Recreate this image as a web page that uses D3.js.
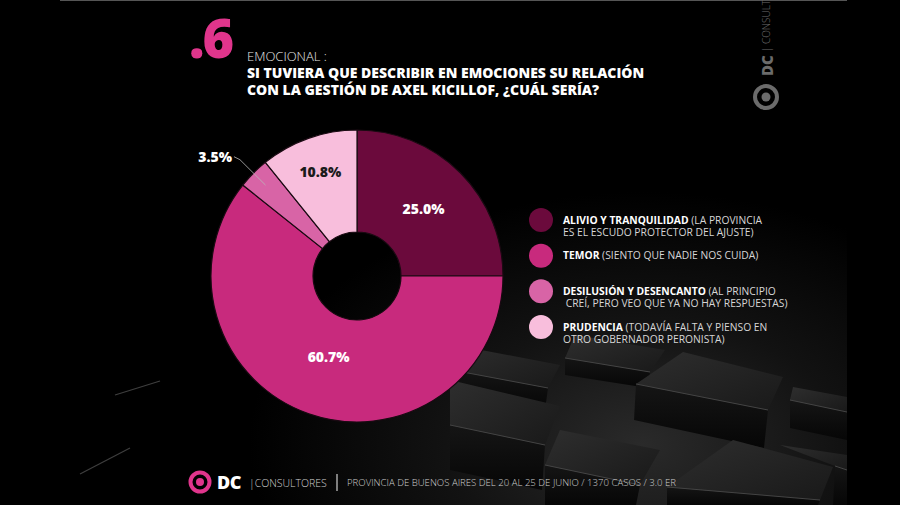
<!DOCTYPE html>
<html>
<head>
<meta charset="utf-8">
<script src="https://cdn.jsdelivr.net/npm/d3@7"></script>
<style>
  html, body { margin: 0; padding: 0; background: #000; }
  svg { display: block; }
</style>
</head>
<body>
<script>
'use strict';

// data
const categories = ['ALIVIO Y TRANQUILIDAD', 'TEMOR', 'DESILUSIÓN Y DESENCANTO', 'PRUDENCIA'];
const values = [25.0, 60.7, 3.5, 10.8];
const descriptions = [
    ['(LA PROVINCIA', 'ES EL ESCUDO PROTECTOR DEL AJUSTE)'],
    ['(SIENTO QUE NADIE NOS CUIDA)'],
    ['(AL PRINCIPIO', ' CREÍ, PERO VEO QUE YA NO HAY RESPUESTAS)'],
    ['(TODAVÍA FALTA Y PIENSO EN', 'OTRO GOBERNADOR PERONISTA)']
];
const titleLines = ['SI TUVIERA QUE DESCRIBIR EN EMOCIONES SU RELACIÓN', 'CON LA GESTIÓN DE AXEL KICILLOF, ¿CUÁL SERÍA?'];
const footerNote = 'PROVINCIA DE BUENOS AIRES DEL 20 AL 25 DE JUNIO / 1370 CASOS / 3.0 ER';

const config = {
    width: 900,
    height: 505,
    slide: { left: 60, right: 847 },
    pie: { cx: 357, cy: 276, outer: 146, inner: 44 },
    pink: '#e0358c',
    font: '"Open Sans", "DejaVu Sans", sans-serif'
};

const color = d3.scaleOrdinal()
    .domain(categories)
    .range(['#6b0a3c', '#c82a7d', '#d864a6', '#f8bedc']);

const svg = d3.select('body')
    .append('svg')
    .attr('width', config.width)
    .attr('height', config.height)
    .style('font-family', config.font)
    ;

const defs = svg.append('defs');

// soft light on the floor of cubes
const glow = defs.append('radialGradient')
    .attr('id', 'glow')
    .attr('cx', 0.74).attr('cy', 0.88).attr('r', 0.5);
glow.append('stop').attr('offset', '0%').attr('stop-color', '#2a2a2a');
glow.append('stop').attr('offset', '50%').attr('stop-color', '#121212');
glow.append('stop').attr('offset', '100%').attr('stop-color', '#000');

const topFace = defs.append('linearGradient')
    .attr('id', 'topFace').attr('x1', 0).attr('y1', 0).attr('x2', 1).attr('y2', 1);
topFace.append('stop').attr('offset', '0%').attr('stop-color', '#2e2e2e');
topFace.append('stop').attr('offset', '100%').attr('stop-color', '#191919');

const sideFace = defs.append('linearGradient')
    .attr('id', 'sideFace').attr('x1', 0).attr('y1', 0).attr('x2', 0).attr('y2', 1);
sideFace.append('stop').attr('offset', '0%').attr('stop-color', '#151515');
sideFace.append('stop').attr('offset', '100%').attr('stop-color', '#060606');

defs.append('clipPath').attr('id', 'slideClip')
    .append('rect')
    .attr('x', config.slide.left).attr('y', 0)
    .attr('width', config.slide.right - config.slide.left).attr('height', config.height);

// background
svg.append('rect')
    .attr('width', config.width).attr('height', config.height)
    .attr('fill', '#000');

const bg = svg.append('g').attr('clip-path', 'url(#slideClip)');

bg.append('rect')
    .attr('x', config.slide.left).attr('y', 0)
    .attr('width', config.slide.right - config.slide.left).attr('height', config.height)
    .attr('fill', 'url(#glow)');

// decorative cubes (stand-in for the background photo)
const cubes = [
    { top: [[455, 345], [560, 365], [548, 388], [452, 370]], side: [[452, 370], [548, 388], [545, 410], [452, 395]] },
    { top: [[575, 335], [665, 350], [650, 372], [565, 358]], side: [[565, 358], [650, 372], [648, 388], [565, 375]] },
    { top: [[450, 380], [560, 406], [545, 445], [450, 425]], side: [[450, 425], [545, 445], [542, 490], [450, 470]] },
    { top: [[683, 352], [783, 377], [768, 410], [636, 384]], side: [[636, 384], [768, 410], [764, 448], [634, 420]] },
    { top: [[793, 387], [847, 397], [847, 412], [790, 400]], side: [[790, 400], [847, 412], [847, 440], [790, 428]] },
    { top: [[560, 430], [660, 450], [640, 485], [545, 465]], side: [[545, 465], [640, 485], [636, 505], [545, 505]] },
    { top: [[733, 440], [833, 467], [820, 500], [667, 487]], side: [[667, 487], [820, 500], [818, 505], [667, 505]] },
    { top: [[780, 445], [847, 455], [847, 470], [835, 466]], side: [[835, 466], [847, 470], [847, 505], [833, 505]] }
];

const line = d3.line();

cubes.forEach(c => {
    bg.append('path').attr('d', line(c.side) + 'Z').attr('fill', 'url(#sideFace)');
    bg.append('path').attr('d', line(c.top) + 'Z').attr('fill', 'url(#topFace)');
    bg.append('path')
        .attr('d', line([c.top[3], c.top[2]]))
        .attr('stroke', '#444').attr('stroke-width', 1).attr('fill', 'none');
});

// faint light streaks on the left
bg.selectAll('.streak')
    .data([[[115, 395], [160, 381]], [[80, 474], [130, 448]]])
    .enter().append('path')
    .attr('class', 'streak')
    .attr('d', d => line(d))
    .attr('stroke', '#3e3e3e').attr('stroke-width', 1.2);

// thin rule on top of slide
svg.append('line')
    .attr('x1', config.slide.left).attr('x2', config.slide.right)
    .attr('y1', 0.5).attr('y2', 0.5)
    .attr('stroke', '#555').attr('stroke-width', 1);

// title block
svg.append('text')
    .attr('x', 189).attr('y', 58)
    .attr('fill', config.pink)
    .style('font-size', '54px').style('font-weight', 800)
    .style('letter-spacing', '-2px')
    .text('.6');

svg.append('text')
    .attr('x', 247).attr('y', 61)
    .attr('fill', '#e6e6e6')
    .style('font-size', '13px').style('font-weight', 300)
    .text('EMOCIONAL :');

svg.selectAll('.title')
    .data(titleLines)
    .enter().append('text')
    .attr('class', 'title')
    .attr('x', 247)
    .attr('y', (d, i) => 78 + i * 16.5)
    .attr('fill', '#fff')
    .style('font-size', '14px').style('font-weight', 800)
    .text(d => d);

// right-side vertical logo (cut at the top edge, as on the slide)
const vlogo = svg.append('g').attr('fill', '#6b6b6b');
vlogo.append('circle')
    .attr('cx', 766).attr('cy', 97).attr('r', 11)
    .attr('fill', 'none').attr('stroke', '#6b6b6b').attr('stroke-width', 4);
vlogo.append('circle').attr('cx', 766).attr('cy', 97).attr('r', 4.5);
vlogo.append('text')
    .attr('transform', 'translate(773,76) rotate(-90)')
    .style('font-size', '15px').style('font-weight', 800)
    .text('DC');
vlogo.append('text')
    .attr('transform', 'translate(770,52) rotate(-90)')
    .style('font-size', '10px').style('font-weight', 300)
    .text('| CONSULTORES');

// donut
const pie = d3.pie().sort(null).value(d => d.value);
const arcs = pie(categories.map((c, i) => ({ name: c, value: values[i] })));

const arc = d3.arc()
    .innerRadius(config.pie.inner)
    .outerRadius(config.pie.outer);

const chart = svg.append('g')
    .attr('transform', `translate(${config.pie.cx}, ${config.pie.cy})`);

chart.selectAll('path.slice')
    .data(arcs)
    .enter().append('path')
    .attr('class', 'slice')
    .attr('d', arc)
    .attr('fill', d => color(d.data.name))
    .attr('stroke', '#1a0a12')
    .attr('stroke-width', 1.2);

// label radius per slice; the thin slice gets an outside label
const labelRadius = [94, 86, null, 110];
const fmt = d3.format('.1f');

chart.selectAll('text.value')
    .data(arcs.filter((d, i) => labelRadius[i] !== null))
    .enter().append('text')
    .attr('class', 'value')
    .attr('transform', d => {
        const r = labelRadius[d.index];
        const c = d3.arc().innerRadius(r).outerRadius(r).centroid(d);
        return `translate(${c})`;
    })
    .attr('text-anchor', 'middle')
    .attr('dy', '0.35em')
    .attr('fill', d => d.index === 3 ? '#1b1b1b' : '#fff')
    .style('font-size', '14px').style('font-weight', 800)
    .text(d => fmt(d.data.value) + '%');

// outside label for the small slice
const small = arcs[2];
const inPt = d3.arc().innerRadius(129).outerRadius(129).centroid(small);
const outPt = d3.arc().innerRadius(165).outerRadius(165).centroid(small);
chart.append('path')
    .attr('d', line([inPt, outPt, [outPt[0] - 6, outPt[1] - 3]]))
    .attr('fill', 'none')
    .attr('stroke', '#b9b9b9')
    .attr('stroke-width', 0.8);
chart.append('text')
    .attr('x', outPt[0] - 8).attr('y', outPt[1] - 3)
    .attr('text-anchor', 'end')
    .attr('dy', '0.35em')
    .attr('fill', '#fff')
    .style('font-size', '14px').style('font-weight', 800)
    .text(fmt(small.data.value) + '%');

// legend
const ly = d3.scalePoint()
    .domain(categories)
    .range([220, 327]);

const legend = svg.selectAll('.legend')
    .data(categories)
    .enter().append('g')
    .attr('class', 'legend')
    .attr('transform', d => `translate(541, ${ly(d)})`);

legend.append('circle')
    .attr('r', 12)
    .attr('fill', d => color(d));

legend.each(function (d, i) {
    const t = d3.select(this).append('text')
        .attr('x', 22).attr('y', 3.5)
        .style('font-size', '10.3px');
    t.append('tspan')
        .attr('fill', '#fff').style('font-weight', 700)
        .text(d + ' ');
    t.append('tspan')
        .attr('fill', '#d6d6d6').style('font-weight', 400)
        .text(descriptions[i][0]);
    if (descriptions[i][1]) {
        d3.select(this).append('text')
            .attr('x', 22).attr('y', 15.5)
            .attr('fill', '#d6d6d6')
            .style('font-size', '10.3px')
            .style('white-space', 'pre')
            .attr('xml:space', 'preserve')
            .text(descriptions[i][1]);
    }
});

// footer
const foot = svg.append('g');
foot.append('circle')
    .attr('cx', 200).attr('cy', 482).attr('r', 9.5)
    .attr('fill', 'none').attr('stroke', config.pink).attr('stroke-width', 4);
foot.append('circle')
    .attr('cx', 200).attr('cy', 482).attr('r', 4)
    .attr('fill', config.pink);
foot.append('text')
    .attr('x', 217).attr('y', 488.5)
    .attr('fill', '#fff')
    .style('font-size', '18px').style('font-weight', 800)
    .style('letter-spacing', '-0.5px')
    .text('DC');
foot.append('text')
    .attr('x', 249).attr('y', 487)
    .attr('fill', '#cfcfcf')
    .style('font-size', '10.5px').style('font-weight', 300)
    .text('|CONSULTORES');
foot.append('line')
    .attr('x1', 337).attr('x2', 337)
    .attr('y1', 474).attr('y2', 491)
    .attr('stroke', '#cfcfcf').attr('stroke-width', 1.2);
foot.append('text')
    .attr('x', 347).attr('y', 486)
    .attr('fill', '#cfcfcf')
    .style('font-size', '9.6px').style('font-weight', 300)
    .text(footerNote);
</script>
</body>
</html>
